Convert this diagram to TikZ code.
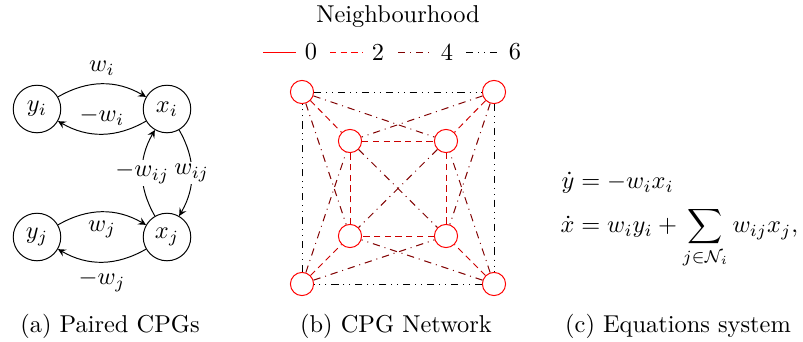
\documentclass[tikz,border=0pt]{standalone}
\usepackage{amsmath}
\usetikzlibrary{arrows.meta}
\begin{document}
\begin{tikzpicture}[x=0.41pt,y=-0.41pt,
  cpg/.style={circle,draw,minimum size=19.5pt,inner sep=0pt},
  net/.style={circle,draw=red,fill=white,minimum size=9.5pt,inner sep=0pt},
  arr/.style={-stealth},
  onarc/.style={fill=white,inner sep=1pt},
  nzero/.style={red},
  ntwo/.style={red,dash pattern=on 2.6pt off 1.8pt},
  nfour/.style={red!50!black,dash dot},
  nsix/.style={black,dash dot dot},
  dark/.style={red!80!black},
  captext/.style={anchor=base}]
\useasboundingbox (0,0) rectangle (803,341);
% (a) Paired CPGs
\node[cpg] (yi) at (37,109) {$y_i$};
\node[cpg] (xi) at (167,109) {$x_i$};
\node[cpg] (yj) at (37,237) {$y_j$};
\node[cpg] (xj) at (167,237) {$x_j$};
\draw[arr] (yi) to[bend left=30] node[above] {$w_i$} (xi);
\draw[arr] (xi) to[bend left=30] node[above] {$-w_i$} (yi);
\draw[arr] (xi) to[bend left=30] node[onarc] {$w_{ij}$} (xj);
\draw[arr] (xj) to[bend left=30] node[onarc] {$-w_{ij}$} (xi);
\draw[arr] (yj) to[bend left=30] node[below] {$w_j$} (xj);
\draw[arr] (xj) to[bend left=30] node[below] {$-w_j$} (yj);
% (b) CPG Network
\node (title) at (398,17) {Neighbourhood};
\coordinate (l0a) at (263,52); \coordinate (l0b) at (296,52);
\coordinate (l2a) at (330,52); \coordinate (l2b) at (363,52);
\coordinate (l4a) at (398,52); \coordinate (l4b) at (431,52);
\coordinate (l6a) at (466,52); \coordinate (l6b) at (499,52);
\draw[nzero] (l0a) -- (l0b);
\draw[ntwo] (l2a) -- (l2b);
\draw[nfour] (l4a) -- (l4b);
\draw[nsix] (l6a) -- (l6b);
\node (t0) at (311,52) {0};
\node (t2) at (378,52) {2};
\node (t4) at (447,52) {4};
\node (t6) at (515,52) {6};
\node[net] (o1) at (302,92) {};
\node[net] (o2) at (494,92) {};
\node[net] (o3) at (302,284) {};
\node[net] (o4) at (494,284) {};
\node[net] (i1) at (350,141) {};
\node[net] (i2) at (446,141) {};
\node[net] (i3) at (350,236) {};
\node[net] (i4) at (446,236) {};
\draw[nsix] (o1) -- (o2); \draw[nsix] (o2) -- (o4);
\draw[nsix] (o4) -- (o3); \draw[nsix] (o3) -- (o1);
\draw[ntwo,dark] (i1) -- (i2); \draw[ntwo,dark] (i2) -- (i4);
\draw[ntwo,dark] (i4) -- (i3); \draw[ntwo,dark] (i3) -- (i1);
\draw[ntwo,dark] (o1) -- (i1); \draw[ntwo,dark] (o2) -- (i2);
\draw[ntwo,dark] (o3) -- (i3); \draw[ntwo,dark] (o4) -- (i4);
\draw[nfour] (i1) -- (i4); \draw[nfour] (i2) -- (i3);
\draw[nfour] (o1) -- (i2); \draw[nfour] (o1) -- (i3);
\draw[nfour] (o2) -- (i1); \draw[nfour] (o2) -- (i4);
\draw[nfour] (o3) -- (i1); \draw[nfour] (o3) -- (i4);
\draw[nfour] (o4) -- (i2); \draw[nfour] (o4) -- (i3);
% (c) Equations
\node[anchor=west] (eq) at (552,218) {$\begin{aligned}\dot{y} &= -w_i x_i\\ \dot{x} &= w_i y_i + \sum_{j\in\mathcal{N}_i} w_{ij} x_j,\end{aligned}$};
% captions
\node[captext] (ca) at (110,332) {(a) Paired CPGs};
\node[captext] (cb) at (396,332) {(b) CPG Network};
\node[captext] (cc) at (678,332) {(c) Equations system};
\end{tikzpicture}
\end{document}
